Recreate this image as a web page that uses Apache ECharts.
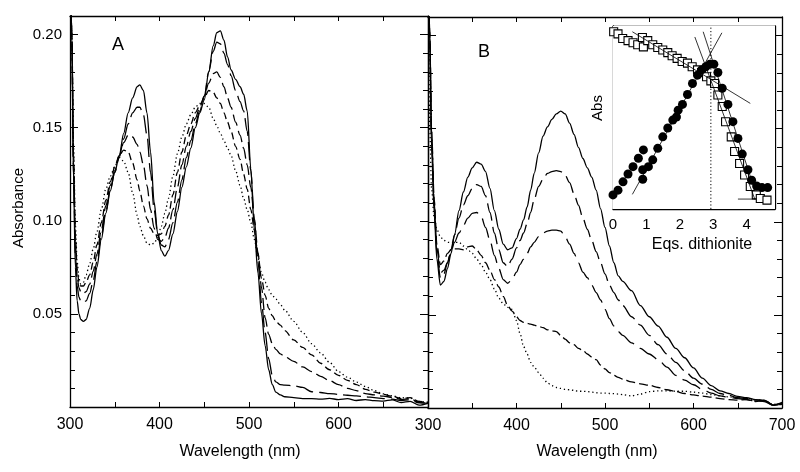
<!DOCTYPE html>
<html><head><meta charset="utf-8">
<script src="https://cdn.jsdelivr.net/npm/echarts@6/dist/echarts.min.js"></script>
<style>html,body{margin:0;padding:0;background:#fff}#c{width:800px;height:472px}</style>
</head><body><div id="c"></div>
<script>
// ---------- Panel A data ----------
const wavelengthA = [300,302,304,306,308,310,312,315,318,322,326,330,335,340,345,350,355,360,365,370,375,378,382,386,390,394,398,402,406,410,415,420,425,430,435,440,445,450,455,460,464,468,472,476,480,485,490,494,498,502,506,510,514,518,522,526,530,535,540,550,560,570,580,590,600,610,620,630,640,650,660,670,680,690,700];
const aSolid = [0.26,0.20,0.12,0.075,0.057,0.050,0.047, 0.046,0.047,0.053,0.063,0.075, 0.090,0.104,0.116,0.126,0.135,0.147,0.158,0.166,0.172, 0.173,0.170,0.158,0.137,0.110,0.093,0.084,0.081,0.084, 0.093,0.105,0.118,0.129,0.139,0.150,0.158,0.165,0.180,0.194, 0.201,0.202,0.197,0.188,0.181, 0.176,0.172, 0.168,0.159,0.128,0.095,0.072,0.050,0.033,0.020,0.012,0.008, 0.0065,0.0055, 0.005,0.0045,0.0045,0.0042,0.0046,0.004,0.0045,0.0035,0.004,0.0034,0.0032,0.0038,0.0024,0.003,0.001,0.002];
const aLongDash = [0.26,0.20,0.125,0.082,0.065,0.059,0.057, 0.056,0.057,0.061,0.068,0.078, 0.092,0.105,0.117,0.126,0.134,0.144,0.152,0.158,0.161, 0.161,0.157,0.146,0.126,0.106,0.093,0.087,0.086,0.090, 0.099,0.110,0.122,0.134,0.143,0.152,0.159,0.167,0.180,0.191, 0.196,0.195,0.190,0.184,0.178, 0.170,0.164, 0.159,0.148,0.127,0.100,0.078,0.056,0.040,0.026,0.017,0.0135, 0.012,0.0118, 0.0114,0.0105,0.0082,0.0078,0.0072,0.0068,0.0063,0.006,0.0055,0.005,0.0045,0.0042,0.0035,0.0038,0.0022,0.002];
const aMedDash = [0.26,0.20,0.13,0.088,0.070,0.064,0.062, 0.061,0.062,0.066,0.073,0.082, 0.095,0.108,0.119,0.127,0.135,0.142,0.146,0.145,0.141, 0.137,0.130,0.119,0.106,0.096,0.090,0.089,0.091,0.096, 0.106,0.118,0.130,0.140,0.148,0.155,0.161,0.167,0.174,0.179, 0.180,0.177,0.172,0.166,0.161, 0.153,0.146, 0.139,0.130,0.118,0.101,0.083,0.064,0.048,0.039,0.034,0.031, 0.0285,0.027, 0.0245,0.0215,0.019,0.0165,0.0142,0.012,0.010,0.0088,0.0072,0.0065,0.0058,0.0052,0.004,0.0045,0.0025,0.002];
const aShortDash = [0.26,0.20,0.135,0.092,0.074,0.067,0.065, 0.065,0.067,0.071,0.078,0.087, 0.099,0.111,0.121,0.129,0.135,0.138,0.137,0.131,0.122, 0.116,0.108,0.101,0.096,0.093,0.092,0.093,0.097,0.103, 0.114,0.126,0.137,0.146,0.152,0.158,0.162,0.166,0.170,0.169, 0.166,0.163,0.158,0.153,0.148, 0.140,0.133, 0.125,0.117,0.106,0.095,0.082,0.069,0.060,0.053,0.049,0.046, 0.044,0.041, 0.036,0.032,0.028,0.0235,0.020,0.017,0.0143,0.012,0.0095,0.008,0.0068,0.0058,0.0045,0.005,0.003,0.0025];
const aDotted = [0.26,0.20,0.14,0.098,0.078,0.069,0.066, 0.067,0.071,0.077,0.085,0.094, 0.106,0.117,0.124,0.129,0.134,0.132,0.126,0.115,0.103, 0.097,0.092,0.088,0.087,0.088,0.091,0.097,0.104,0.112, 0.124,0.136,0.145,0.152,0.157,0.161,0.163,0.163,0.161,0.155, 0.151,0.147,0.143,0.139,0.135, 0.127,0.119, 0.112,0.106,0.099,0.090,0.080,0.072,0.067,0.063,0.060,0.058, 0.055,0.052, 0.046,0.040,0.034,0.029,0.024,0.019,0.016,0.0134,0.011,0.0088,0.007,0.006,0.005,0.0048,0.003,0.0025];

// ---------- Panel B data ----------
const wavelengthB = [300,302,304,307,310,314,318,322,326,330,335,340,345,350,355,360,365,370,375,380,385,390,395,400,404,408,412,416,420,425,430,435,440,445,450,455,460,465,470,475,480,485,490,495,500,505,510,515,520,530,540,550,560,570,580,590,600,610,620,630,640,650,660,670,680,690,700];
const bSolid = [0.26,0.20,0.14,0.105,0.080,0.066,0.068,0.075,0.083,0.093, 0.106,0.116,0.124,0.129,0.132,0.131,0.127,0.118,0.106,0.096,0.088,0.085,0.086,0.091, 0.096,0.101,0.108,0.117, 0.126,0.137,0.146,0.151,0.155,0.158,0.1595,0.158,0.153,0.147,0.140,0.134,0.129,0.124,0.117,0.107,0.097,0.087,0.078,0.071,0.068, 0.063,0.055,0.049,0.044,0.038,0.032,0.027,0.0215,0.016,0.012,0.0092,0.0078,0.0062,0.0055,0.0045,0.0042,0.0015,0.003];
const bLongDash1 = [0.26,0.20,0.145,0.108,0.083,0.070,0.072,0.078,0.085,0.093, 0.102,0.109,0.114,0.118,0.120,0.119,0.114,0.105,0.094,0.085,0.078,0.076,0.080,0.086, 0.090,0.094,0.099,0.105, 0.112,0.119,0.123,0.126,0.127,0.1275,0.127,0.125,0.121,0.115,0.109,0.102,0.096,0.090,0.084,0.078,0.072,0.066,0.062,0.058,0.055, 0.049,0.0445,0.039,0.034,0.029,0.0245,0.020,0.016,0.0128,0.010,0.0078,0.0068,0.0055,0.005,0.0042,0.004,0.0018,0.0025];
const bLongDash2 = [0.26,0.20,0.148,0.11,0.086,0.0725,0.074,0.078,0.084,0.089, 0.094,0.098,0.102,0.1045,0.105,0.103,0.097,0.090,0.082,0.075,0.069,0.067,0.069,0.073, 0.077,0.080,0.083,0.0865, 0.089,0.092,0.094,0.095,0.0955,0.0955,0.095,0.092,0.088,0.083,0.078,0.073,0.070,0.066,0.062,0.058,0.053,0.048,0.044,0.041,0.039, 0.035,0.032,0.029,0.026,0.022,0.0175,0.015,0.0125,0.010,0.008,0.0065,0.0058,0.005,0.0045,0.0038,0.0035,0.0015,0.002];
const bDash = [0.26,0.20,0.15,0.112,0.088,0.077,0.079,0.083,0.085,0.0855, 0.0855,0.085,0.0865,0.087,0.085,0.082,0.078,0.074,0.069,0.065,0.060,0.055,0.052,0.049, 0.047,0.046,0.0455,0.045, 0.0445,0.0438,0.0432,0.042,0.0415,0.041,0.039,0.037,0.035,0.034,0.032,0.031,0.029,0.0275,0.026,0.023,0.021,0.019,0.0175,0.0165,0.0155, 0.014,0.013,0.0122,0.011,0.0098,0.0088,0.0078,0.007,0.0064,0.0058,0.005,0.0045,0.0042,0.0045,0.0035,0.004,0.0015,0.002];
const bDotted = [0.26,0.15,0.118,0.102,0.096,0.092,0.090,0.089,0.0888,0.089, 0.089,0.087,0.085,0.083,0.080,0.077,0.073,0.069,0.064,0.059,0.056,0.054,0.053,0.047, 0.040,0.033,0.029,0.0245, 0.022,0.019,0.016,0.0135,0.012,0.011,0.0105,0.010,0.0098,0.0095,0.009,0.009,0.0088,0.0085,0.0082,0.008,0.008,0.0078,0.0077,0.0075,0.0072, 0.0065,0.0075,0.0088,0.0092,0.0092,0.009,0.009,0.0085,0.008,0.0072,0.0065,0.006,0.0055,0.005,0.0045,0.004,0.002,0.0025];

// ---------- Inset (titration) data ----------
const circleEq  = [0,0.15,0.30,0.45,0.60,0.76,0.91, 0.89,0.89,1.06,1.19,1.34,1.49,1.64,1.79,1.90,1.95, 2.08,2.23,2.38,2.53,2.65,2.78,2.90,3.02, 3.14,3.27,3.44,3.59,3.74,3.87,4.04,4.15,4.30,4.46,4.63];
const circleAbs = [0.27,0.36,0.52,0.67,0.81,0.97,1.13, 0.75,0.57,0.81,0.94,1.16,1.38,1.55,1.70,1.76,1.89, 2.00,2.19,2.40,2.56,2.66,2.72,2.77,2.77, 2.61,2.31,2.00,1.67,1.35,1.05,0.75,0.55,0.44,0.41,0.41];
const squareEq  = [0.02,0.15,0.29,0.45,0.60,0.74,0.88,0.91, 1.04,1.19,1.34,1.49,1.64,1.77,1.92, 2.07,2.23,2.37,2.53,2.65,2.80,2.93, 3.04,3.14,3.27,3.37,3.54,3.64,3.79,3.94, 4.11,4.29,4.41,4.61];
const squareAbs = [3.39,3.35,3.26,3.22,3.18,3.14,3.28,3.10, 3.22,3.14,3.09,3.04,2.99,2.93,2.88, 2.82,2.79,2.72,2.66,2.61,2.53,2.45, 2.40,2.18,1.96,1.67,1.38,1.10,0.87,0.65, 0.43,0.27,0.20,0.17];
const fitRiseEq = [0.58, 3.26],       fitRiseAbs = [0.28, 3.37];
const fitShallowEq = [0.58, 4.11],    fitShallowAbs = [3.39, 2.02];
const fitSteepSqEq = [2.45, 4.25],    fitSteepSqAbs = [3.29, 0.18];
const fitSteepCircEq = [2.70, 4.20],  fitSteepCircAbs = [3.39, 0.45];
const fitBaseEq = [3.74, 4.29],       fitBaseAbs = [0.19, 0.19];
const endpointEq = [2.93, 2.93],      endpointAbs = [0, 3.5];

// ---------- helpers ----------
const FONT = '"Liberation Sans", Arial, Helvetica, sans-serif';
const pairs = (xs, ys) => xs.map((x, i) => [x, ys[i]]);
const AXLINE = {show: true, onZero: false, lineStyle: {color: '#000', width: 1.3}};
const tick = (len) => ({show: true, inside: true, length: len, lineStyle: {color: '#000', width: 1}});
const noLabel = {show: false};
const lab = (fmt, margin, size) => ({show: true, margin: margin, fontSize: size || 15, color: '#000', fontFamily: FONT, formatter: fmt});

function xPair(grid, min, max, interval, fmt, tl, margin, size) {
  return [
    {gridIndex: grid, type: 'value', position: 'bottom', min, max, interval, axisLine: AXLINE, axisTick: tick(tl), axisLabel: lab(fmt, margin, size), splitLine: {show: false}},
    {gridIndex: grid, type: 'value', position: 'top', min, max, interval, axisLine: AXLINE, axisTick: tick(tl), axisLabel: noLabel, splitLine: {show: false}}
  ];
}
const yFmt = v => { const k = Math.round(v * 100); return (k > 0 && k % 5 === 0 && k <= 20) ? (k / 100).toFixed(2) : ''; };
function yQuad(grid, withLabels) {
  const base = {gridIndex: grid, type: 'value', min: 0, max: 0.21, splitLine: {show: false}};
  return [
    Object.assign({}, base, {position: 'left', interval: 0.01, axisLine: AXLINE, axisTick: tick(5), axisLabel: withLabels ? lab(yFmt, 8) : noLabel}),
    Object.assign({}, base, {position: 'left', interval: 0.05, axisLine: {show: false}, axisTick: tick(8), axisLabel: noLabel}),
    Object.assign({}, base, {position: 'right', interval: 0.01, axisLine: AXLINE, axisTick: tick(5), axisLabel: noLabel}),
    Object.assign({}, base, {position: 'right', interval: 0.05, axisLine: {show: false}, axisTick: tick(8), axisLabel: noLabel})
  ];
}
const nmFmtA = v => (v % 100 === 0 && v < 700) ? String(v) : '';
const nmFmtB = v => (v % 100 === 0) ? String(v) : '';
const eqFmt = v => { const r = Math.round(v); return (Math.abs(v - r) < 1e-6 && r <= 4) ? String(r) : ''; };

function spec(xi, yi, xs, ys, dash) {
  return {type: 'line', xAxisIndex: xi, yAxisIndex: yi, data: pairs(xs, ys), symbol: 'none', showSymbol: false,
    smooth: 0.3, smoothMonotone: 'x', silent: true, z: 3,
    lineStyle: {color: '#000', width: 1.3, type: dash, cap: 'butt', opacity: 1}};
}
function fitLine(xs, ys, dash, w) {
  return {type: 'line', xAxisIndex: 4, yAxisIndex: 8, data: pairs(xs, ys), symbol: 'none', silent: true, z: 7,
    lineStyle: {color: '#000', width: w, type: dash, opacity: 1}};
}
const textEl = (x, y, text, size, rot) => ({type: 'text', x, y, rotation: rot || 0,
  style: {text, fill: '#000', font: size + 'px ' + FONT, align: 'center', verticalAlign: 'middle', textAlign: 'center', textVerticalAlign: 'middle'}});

const option = {
  animation: false,
  backgroundColor: '#fff',
  grid: [
    {left: 70, top: 16, width: 358, height: 391},
    {left: 428, top: 17, width: 354, height: 391},
    {left: 613, top: 26, width: 162, height: 183, show: true, backgroundColor: '#fff', borderWidth: 0, z: 5}
  ],
  xAxis: [].concat(
    xPair(0, 300, 700, 50, nmFmtA, 5, 10, 16),
    xPair(1, 300, 700, 50, nmFmtB, 5, 10, 16),
    xPair(2, 0, 4.85, 0.2, eqFmt, 4, 8, 15)
  ),
  yAxis: [].concat(
    yQuad(0, true),
    yQuad(1, false),
    [
      {gridIndex: 2, type: 'value', position: 'left', min: 0, max: 3.5, interval: 1, axisLine: AXLINE, axisTick: tick(5), axisLabel: noLabel, splitLine: {show: false}},
      {gridIndex: 2, type: 'value', position: 'right', min: 0, max: 3.5, interval: 1, axisLine: AXLINE, axisTick: tick(5), axisLabel: noLabel, splitLine: {show: false}}
    ]
  ),
  series: [
    spec(0, 0, wavelengthA, aSolid, 'solid'),
    spec(0, 0, wavelengthA, aLongDash, [18, 6]),
    spec(0, 0, wavelengthA, aMedDash, [12, 5]),
    spec(0, 0, wavelengthA, aShortDash, [7, 4]),
    spec(0, 0, wavelengthA, aDotted, [1.3, 2.8]),
    spec(2, 4, wavelengthB, bSolid, 'solid'),
    spec(2, 4, wavelengthB, bLongDash1, [18, 6]),
    spec(2, 4, wavelengthB, bLongDash2, [20, 7]),
    spec(2, 4, wavelengthB, bDash, [9, 4]),
    spec(2, 4, wavelengthB, bDotted, [1.3, 2.8]),
    {type: 'scatter', xAxisIndex: 4, yAxisIndex: 8, data: pairs(squareEq, squareAbs), symbol: 'rect', symbolSize: 8, silent: true, z: 6,
      itemStyle: {color: '#fff', borderColor: '#000', borderWidth: 1.1, opacity: 1}},
    fitLine(fitRiseEq, fitRiseAbs, 'solid', 0.8),
    fitLine(fitShallowEq, fitShallowAbs, 'solid', 0.8),
    fitLine(fitSteepSqEq, fitSteepSqAbs, 'solid', 0.8),
    fitLine(fitSteepCircEq, fitSteepCircAbs, 'solid', 0.8),
    fitLine(fitBaseEq, fitBaseAbs, 'solid', 0.8),
    fitLine(endpointEq, endpointAbs, [1.2, 2.2], 1),
    {type: 'scatter', xAxisIndex: 4, yAxisIndex: 8, data: pairs(circleEq, circleAbs), symbol: 'circle', symbolSize: 9, silent: true, z: 8,
      itemStyle: {color: '#000', borderColor: '#000', borderWidth: 0, opacity: 1}}
  ],
  graphic: [
    textEl(118, 45, 'A', 18),
    textEl(484, 52, 'B', 18),
    textEl(19, 208, 'Absorbance', 15, Math.PI / 2),
    textEl(240, 452, 'Wavelength (nm)', 16),
    textEl(597, 452, 'Wavelength (nm)', 16),
    textEl(702, 245, 'Eqs. dithionite', 16),
    textEl(598, 108, 'Abs', 15, Math.PI / 2)
  ]
};
const chart = echarts.init(document.getElementById('c'), null, {renderer: 'canvas'});
chart.setOption(option);
</script>
</body></html>
